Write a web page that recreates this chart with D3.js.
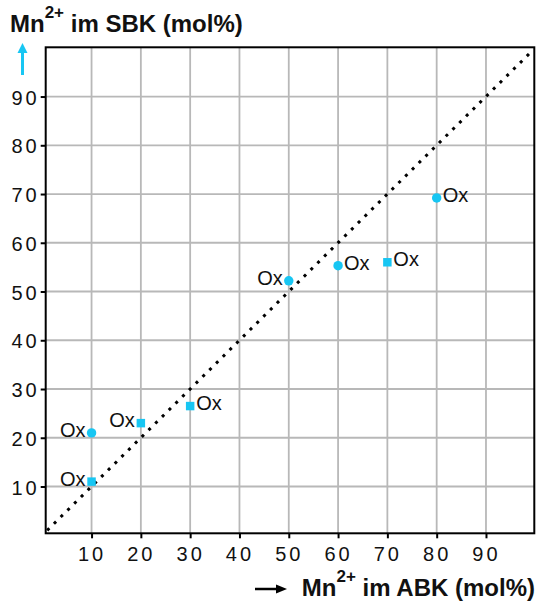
<!DOCTYPE html>
<html>
<head>
<meta charset="utf-8">
<script src="https://cdn.jsdelivr.net/npm/d3@7"></script>
<style>
  body { margin: 0; background: #fff; }
  text { font-family: "Liberation Sans", Arial, sans-serif; }
</style>
</head>
<body>
<script>
// Mn2+ SBK vs ABK scatter

const abk = [10, 10, 20, 30, 50, 60, 70, 80];          // Mn2+ im ABK (mol%)
const sbk = [21, 11, 23, 26.5, 52.2, 55.3, 56, 69.2];  // Mn2+ im SBK (mol%)
const shapes = ["circle", "square", "square", "square", "circle", "circle", "square", "circle"];
const labelSide = ["left", "left", "left", "right", "left", "right", "right", "right"];
const pointLabel = "Ox";
const ticks = [10, 20, 30, 40, 50, 60, 70, 80, 90];
const diagonal = [1, 99];

const width = 537, height = 607;
const plot = {left: 45.7, right: 534.3, top: 47.3, bottom: 533.3};
const cyan = "#17c6f3";

const svg = d3.select("body").append("svg")
  .attr("width", width)
  .attr("height", height);

const x = d3.scaleLinear().domain([0.7, 99.8]).range([plot.left, plot.right]);
const y = d3.scaleLinear().domain([0.4, 100.1]).range([plot.bottom, plot.top]);

// grid
svg.append("g").selectAll("line")
  .data(ticks)
  .join("line")
  .attr("x1", d => x(d)).attr("x2", d => x(d))
  .attr("y1", plot.top).attr("y2", plot.bottom)
  .attr("stroke", "#b8b8b8").attr("stroke-width", 1.8);

svg.append("g").selectAll("line")
  .data(ticks)
  .join("line")
  .attr("y1", d => y(d)).attr("y2", d => y(d))
  .attr("x1", plot.left).attr("x2", plot.right)
  .attr("stroke", "#b8b8b8").attr("stroke-width", 1.8);

// frame
svg.append("rect")
  .attr("x", plot.left).attr("y", plot.top)
  .attr("width", plot.right - plot.left)
  .attr("height", plot.bottom - plot.top)
  .attr("fill", "none")
  .attr("stroke", "#000").attr("stroke-width", 2);

// axes (ticks + labels)
const xAxis = svg.append("g")
  .attr("transform", "translate(0," + plot.bottom + ")")
  .call(d3.axisBottom(x).tickValues(ticks).tickSize(5).tickPadding(9).tickFormat(d3.format("d")));
const yAxis = svg.append("g")
  .attr("transform", "translate(" + plot.left + ",0)")
  .call(d3.axisLeft(y).tickValues(ticks).tickSize(5).tickPadding(1).tickFormat(d3.format("d")));

[xAxis, yAxis].forEach(ax => {
  ax.select(".domain").remove();
  ax.selectAll(".tick line").attr("stroke", "#000").attr("stroke-width", 2);
  ax.selectAll(".tick text")
    .attr("fill", "#111")
    .style("font-size", "20px")
    .style("letter-spacing", "3px")
    .style("font-family", "'Liberation Sans', Arial, sans-serif");
});
yAxis.selectAll(".tick text").attr("dy", "0.38em");

// diagonal dotted line
svg.append("line")
  .attr("x1", x(diagonal[0])).attr("y1", y(diagonal[0]))
  .attr("x2", x(diagonal[1])).attr("y2", y(diagonal[1]))
  .attr("stroke", "#000")
  .attr("stroke-width", 3)
  .attr("stroke-dasharray", "3,6.5");

// points
const pts = abk.map((d, i) => ({x: d, y: sbk[i], shape: shapes[i], side: labelSide[i]}));

svg.append("g").selectAll("path")
  .data(pts)
  .join("path")
  .attr("transform", d => "translate(" + x(d.x) + "," + y(d.y) + ")")
  .attr("d", d => d3.symbol(d.shape === "square" ? d3.symbolSquare : d3.symbolCircle, d.shape === "square" ? 72 : 70)())
  .attr("fill", cyan);

svg.append("g").selectAll("text")
  .data(pts)
  .join("text")
  .attr("x", d => x(d.x) + (d.side === "left" ? -6 : 6))
  .attr("y", d => y(d.y) + 4)
  .attr("text-anchor", d => d.side === "left" ? "end" : "start")
  .style("font-size", "20px")
  .attr("fill", "#111")
  .text(pointLabel);

// titles with superscript
function title(sel, rest) {
  sel.style("font-size", "24px").style("font-weight", "bold").attr("fill", "#111");
  sel.append("tspan").text("Mn");
  sel.append("tspan").text("2+").style("font-size", "17px").attr("dy", -14);
  sel.append("tspan").text(rest).attr("dy", 14);
}

title(svg.append("text").attr("x", 10).attr("y", 32), " im SBK (mol%)");

// y arrow
svg.append("line")
  .attr("x1", 22.5).attr("x2", 22.5).attr("y1", 75).attr("y2", 50)
  .attr("stroke", cyan).attr("stroke-width", 3);
svg.append("path")
  .attr("d", "M22.5,43 L27.5,53 L17.5,53 Z")
  .attr("fill", cyan);

// x title
title(svg.append("text").attr("x", 535).attr("y", 596).attr("text-anchor", "end"), " im ABK (mol%)");

// x arrow
svg.append("line")
  .attr("x1", 255).attr("x2", 278).attr("y1", 589).attr("y2", 589)
  .attr("stroke", "#000").attr("stroke-width", 2.5);
svg.append("path")
  .attr("d", "M287,589 L276,584.5 L276,593.5 Z")
  .attr("fill", "#000");
</script>
</body>
</html>
